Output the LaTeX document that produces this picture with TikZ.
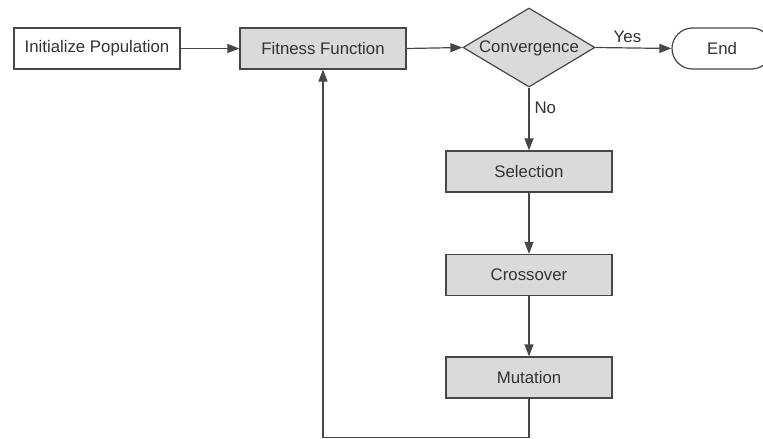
\documentclass[tikz,border=0pt]{standalone}
\usepackage{fontspec}
\setmainfont{Liberation Sans}
\usetikzlibrary{shapes.geometric,shapes.misc,arrows.meta}
\definecolor{boxfill}{HTML}{DADADA}
\definecolor{linecol}{HTML}{474747}
\definecolor{txtcol}{HTML}{333333}
\begin{document}
\begin{tikzpicture}[x=1pt,y=-1pt,
  every node/.style={font=\fontsize{16.8pt}{19pt}\selectfont, text=txtcol},
  procbox/.style={draw=linecol, line width=1.2pt, rectangle, minimum width=166pt, minimum height=41pt, inner sep=0pt},
  greybox/.style={procbox, fill=boxfill},
  decision/.style={draw=linecol, line width=1.2pt, fill=boxfill, diamond, minimum width=132pt, minimum height=79pt, inner sep=0pt},
  termbox/.style={draw=linecol, line width=1.2pt, rounded rectangle, minimum width=100pt, minimum height=41pt, inner sep=0pt},
  flow/.style={draw=linecol, line width=1.2pt, -{Triangle[length=12pt,width=9pt]}},
  lbl/.style={inner sep=0pt}]
\clip (0,0) rectangle (763,439);
\fill[white] (0,0) rectangle (763,439);
\node[procbox] (init) at (97,48.5) {Initialize Population};
\node[greybox] (fit) at (323,48.5) {Fitness Function};
\node[decision] (conv) at (529,47.5) {};
\node[lbl] (convtxt) at (529,48) {Convergence};
\node[termbox] (end) at (722,48.5) {End};
\node[greybox] (sel) at (529,171.5) {Selection};
\node[greybox] (cross) at (529,275) {Crossover};
\node[greybox] (mut) at (529,377.5) {Mutation};
\coordinate (c1) at (529,437.5);
\coordinate (c2) at (323,437.5);
\draw[flow] (init.east) -- (fit.west);
\draw[flow] (fit.east) -- (conv.west);
\draw[flow] (conv.east) -- node[lbl, above, pos=0.42, yshift=5pt] (yes) {Yes} (end.west);
\draw[flow] (conv.south) -- node[lbl, right, pos=0.32, xshift=5pt] (no) {No} (sel.north);
\draw[flow] (sel.south) -- (cross.north);
\draw[flow] (cross.south) -- (mut.north);
\draw[flow] (mut.south) -- (c1) -- (c2) -- (fit.south);
\end{tikzpicture}
\end{document}
